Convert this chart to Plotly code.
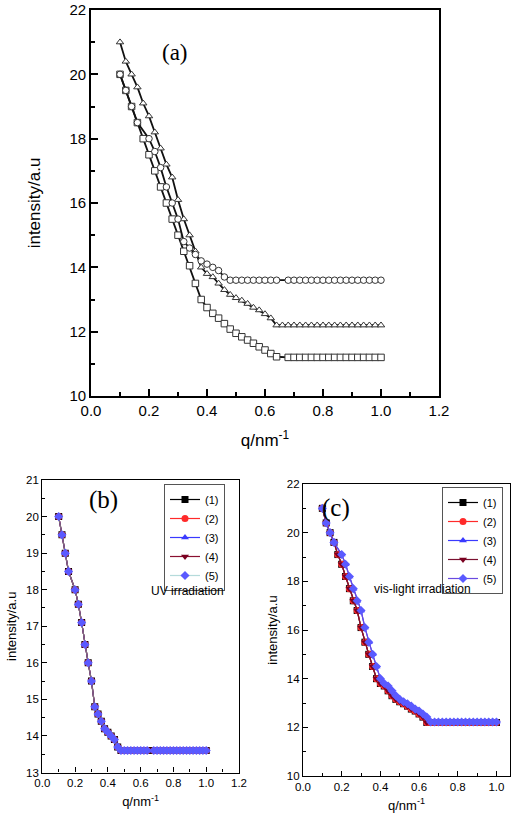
import plotly.graph_objects as go

# ---------------- data ----------------
# UV-irradiated curve (panel a circles, panel b all series)
q_uv = [0.10, 0.12, 0.14, 0.16, 0.20, 0.22, 0.24, 0.26, 0.28, 0.30, 0.32, 0.34, 0.36, 0.38,
        0.40, 0.42, 0.44, 0.46, 0.48, 0.50, 0.52, 0.54, 0.56, 0.58, 0.60, 0.62, 0.64,
        0.68, 0.70, 0.72, 0.74, 0.76, 0.78, 0.80, 0.82, 0.84, 0.86, 0.88, 0.90, 0.92,
        0.94, 0.96, 0.98, 1.00]
i_uv = [20.0, 19.5, 19.0, 18.5, 18.0, 17.6, 17.1, 16.5, 16.0, 15.5, 14.8, 14.6, 14.4, 14.2,
        14.1, 14.0, 13.9, 13.7, 13.6, 13.6, 13.6, 13.6, 13.6, 13.6, 13.6, 13.6, 13.6,
        13.6, 13.6, 13.6, 13.6, 13.6, 13.6, 13.6, 13.6, 13.6, 13.6, 13.6, 13.6, 13.6,
        13.6, 13.6, 13.6, 13.6]

# vis-light curve A (panel a triangles, panel c series 1, 2, 4)
q_vis_a = [0.10, 0.12, 0.14, 0.16, 0.18, 0.20, 0.22, 0.24, 0.26, 0.28, 0.30, 0.32, 0.34, 0.36,
           0.38, 0.40, 0.42, 0.44, 0.46, 0.48, 0.50, 0.52, 0.54, 0.56, 0.58, 0.60, 0.62, 0.64,
           0.66, 0.68, 0.70, 0.72, 0.74, 0.76, 0.78, 0.80, 0.82, 0.84, 0.86, 0.88, 0.90,
           0.92, 0.94, 0.96, 0.98, 1.00]
i_vis_a = [21.0, 20.4, 20.0, 19.6, 19.1, 18.7, 18.2, 17.7, 17.2, 16.8, 16.1, 15.5, 15.0, 14.5,
           14.0, 13.8, 13.7, 13.5, 13.3, 13.15, 13.05, 12.97, 12.87, 12.75, 12.67, 12.55, 12.42, 12.2,
           12.2, 12.2, 12.2, 12.2, 12.2, 12.2, 12.2, 12.2, 12.2, 12.2, 12.2, 12.2, 12.2,
           12.2, 12.2, 12.2, 12.2, 12.2]

# vis-light curve B (panel c series 3, 5)
q_vis_b = [0.10, 0.12, 0.14, 0.16, 0.20, 0.22, 0.24, 0.26, 0.28, 0.30, 0.32, 0.34, 0.36, 0.38,
           0.40, 0.42, 0.44, 0.46, 0.48, 0.50, 0.52, 0.54, 0.56, 0.58, 0.60, 0.62, 0.64, 0.66,
           0.68, 0.70, 0.72, 0.74, 0.76, 0.78, 0.80, 0.82, 0.84, 0.86, 0.88, 0.90,
           0.92, 0.94, 0.96, 0.98, 1.00]
i_vis_b = [21.0, 20.4, 20.0, 19.6, 19.1, 18.7, 18.2, 17.7, 17.2, 16.8, 16.1, 15.5, 15.0, 14.5,
           14.0, 13.8, 13.7, 13.5, 13.3, 13.15, 13.05, 12.97, 12.87, 12.75, 12.67, 12.55, 12.42, 12.22,
           12.22, 12.22, 12.22, 12.22, 12.22, 12.22, 12.22, 12.22, 12.22, 12.22, 12.22, 12.22,
           12.22, 12.22, 12.22, 12.22, 12.22]

# third curve in panel a (squares)
q_sq = [0.10, 0.12, 0.14, 0.16, 0.18, 0.20, 0.22, 0.24, 0.26, 0.28, 0.30, 0.32, 0.34, 0.36,
        0.38, 0.40, 0.42, 0.44, 0.46, 0.48, 0.50, 0.52, 0.54, 0.56, 0.58, 0.60, 0.62, 0.64,
        0.68, 0.70, 0.72, 0.74, 0.76, 0.78, 0.80, 0.82, 0.84, 0.86, 0.88, 0.90,
        0.92, 0.94, 0.96, 0.98, 1.00]
i_sq = [20.0, 19.5, 19.0, 18.5, 18.0, 17.5, 17.0, 16.5, 16.0, 15.5, 15.0, 14.5, 14.05, 13.5,
        13.0, 12.75, 12.57, 12.42, 12.25, 12.08, 11.95, 11.84, 11.74, 11.64, 11.53, 11.43, 11.32, 11.22,
        11.2, 11.2, 11.2, 11.2, 11.2, 11.2, 11.2, 11.2, 11.2, 11.2, 11.2, 11.2,
        11.2, 11.2, 11.2, 11.2, 11.2]

series_names = ["(1)", "(2)", "(3)", "(4)", "(5)"]
line_colors = ["#000000", "#ff2a2a", "#3a3aff", "#8a1030", "rgba(120,190,190,0.55)"]
marker_colors = ["#000000", "#ff2a2a", "#3a3aff", "#7a0020", "#5a5aff"]
symbols = ["square", "circle", "triangle-up", "triangle-down", "diamond"]
vis_line_colors = ["#000000", "#ff2a2a", "#3a3aff", "#7a1030", "#6a4ae0"]

FONT = "Liberation Sans, Arial, sans-serif"
SERIF = "Liberation Serif, Times New Roman, serif"

fig = go.Figure()

# ---------------- panel (a) ----------------
for qx, iy, sym in [(q_sq, i_sq, "square"), (q_vis_a, i_vis_a, "triangle-up"), (q_uv, i_uv, "circle")]:
    fig.add_trace(go.Scatter(
        x=qx, y=iy, mode="lines+markers", xaxis="x", yaxis="y", showlegend=False,
        line=dict(color="#111111", width=1.8),
        marker=dict(symbol=sym, size=6.5, color="white", line=dict(color="#333333", width=1)),
    ))

# ---------------- panel (b) ----------------
for k in range(5):
    fig.add_trace(go.Scatter(
        x=q_uv, y=i_uv, mode="lines+markers", xaxis="x2", yaxis="y2",
        name=series_names[k], legend="legend",
        line=dict(color=line_colors[k], width=1.2),
        marker=dict(symbol=symbols[k], size=7, color=marker_colors[k], line=dict(width=0)),
    ))

# ---------------- panel (c) ----------------
vis_sets = [(q_vis_a, i_vis_a), (q_vis_a, i_vis_a), (q_vis_b, i_vis_b), (q_vis_a, i_vis_a), (q_vis_b, i_vis_b)]
for k in range(5):
    qx, iy = vis_sets[k]
    fig.add_trace(go.Scatter(
        x=qx, y=iy, mode="lines+markers", xaxis="x3", yaxis="y3",
        name=series_names[k], legend="legend2",
        line=dict(color=vis_line_colors[k], width=1.2),
        marker=dict(symbol=symbols[k], size=7, color=marker_colors[k], line=dict(width=0)),
    ))

W, H = 520, 821


def dx(a, b):
    return [a / W, b / W]


def dy(top, bottom):
    return [1 - bottom / H, 1 - top / H]


axis_common = dict(showline=True, linecolor="black", mirror=True, ticks="inside",
                   tickcolor="black", showgrid=False, zeroline=False, automargin=False)

fig.update_layout(
    width=W, height=H, margin=dict(l=0, r=0, t=0, b=0),
    paper_bgcolor="white", plot_bgcolor="white",
    font=dict(family=FONT, color="black"),
    xaxis=dict(domain=dx(91, 439), range=[0, 1.2], dtick=0.2, tickformat=".1f",
               ticklen=7, tickwidth=1.5, linewidth=1.8,
               minor=dict(dtick=0.1, ticks="inside", ticklen=4, tickcolor="black", tickwidth=1.5),
               title=dict(text="q/nm<sup>-1</sup>", font=dict(size=17), standoff=16),
               tickfont=dict(size=15, family=FONT, color="black"), anchor="y", **axis_common),
    yaxis=dict(domain=dy(10, 396), range=[10, 22], dtick=2,
               ticklen=7, tickwidth=1.5, linewidth=1.8,
               minor=dict(dtick=1, ticks="inside", ticklen=4, tickcolor="black", tickwidth=1.5),
               title=dict(text="intensity/a.u", font=dict(size=17), standoff=24),
               tickfont=dict(size=15, family=FONT, color="black"), anchor="x", **axis_common),
    xaxis2=dict(domain=dx(42.3, 239), range=[0, 1.2], dtick=0.2, tickformat=".1f",
                ticklen=5, tickwidth=1, linewidth=1.2,
                minor=dict(dtick=0.1, ticks="inside", ticklen=3, tickcolor="black"),
                title=dict(text="q/nm<sup>-1</sup>", font=dict(size=13), standoff=8),
                tickfont=dict(size=11.5, family=FONT, color="black"), anchor="y2", **axis_common),
    yaxis2=dict(domain=dy(480, 772.5), range=[13, 21], dtick=1,
                ticklen=5, tickwidth=1, linewidth=1.2,
                minor=dict(dtick=0.5, ticks="inside", ticklen=3, tickcolor="black"),
                title=dict(text="intensity/a.u", font=dict(size=13), standoff=6),
                tickfont=dict(size=11.5, family=FONT, color="black"), anchor="x2", **axis_common),
    xaxis3=dict(domain=dx(303, 510), range=[0, 1.07], dtick=0.2, tickformat=".1f",
                ticklen=5, tickwidth=1, linewidth=1.2,
                minor=dict(dtick=0.1, ticks="inside", ticklen=3, tickcolor="black"),
                title=dict(text="q/nm<sup>-1</sup>", font=dict(size=13), standoff=8),
                tickfont=dict(size=11.5, family=FONT, color="black"), anchor="y3", **axis_common),
    yaxis3=dict(domain=dy(484, 776), range=[10, 22], dtick=2,
                ticklen=5, tickwidth=1, linewidth=1.2,
                minor=dict(dtick=1, ticks="inside", ticklen=3, tickcolor="black"),
                title=dict(text="intensity/a.u", font=dict(size=13), standoff=6),
                tickfont=dict(size=11.5, family=FONT, color="black"), anchor="x3", **axis_common),
    legend=dict(x=164 / W, y=1 - 484 / H, xanchor="left", yanchor="top",
                bordercolor="#555555", borderwidth=1, bgcolor="white",
                font=dict(size=11, family=FONT), tracegroupgap=0,
                itemwidth=30),
    legend2=dict(x=442 / W, y=1 - 487 / H, xanchor="left", yanchor="top",
                 bordercolor="#555555", borderwidth=1, bgcolor="white",
                 font=dict(size=11, family=FONT), tracegroupgap=0,
                 itemwidth=30),
    annotations=[
        dict(text="(a)", x=175 / W, y=1 - 38 / H, xref="paper", yref="paper",
             showarrow=False, font=dict(family=SERIF, size=23, color="black")),
        dict(text="(b)", x=87 / W, y=1 - 500 / H, xref="paper", yref="paper",
             showarrow=False, font=dict(family=SERIF, size=25, color="black")),
        dict(text="(c)", x=352 / W, y=1 - 508 / H, xref="paper", yref="paper",
             showarrow=False, font=dict(family=SERIF, size=25, color="black")),
        dict(text="UV irradiation", x=187 / W, y=1 - 600 / H, xref="paper", yref="paper",
             showarrow=False, font=dict(family=FONT, size=12, color="black")),
        dict(text="vis-light irradiation", x=473 / W, y=1 - 598 / H, xref="paper", yref="paper",
             showarrow=False, font=dict(family=FONT, size=12, color="black")),
    ],
)

fig.write_html("out.html", config={"displayModeBar": False},
               post_script="document.body.style.margin='0';document.body.style.overflow='hidden';")
